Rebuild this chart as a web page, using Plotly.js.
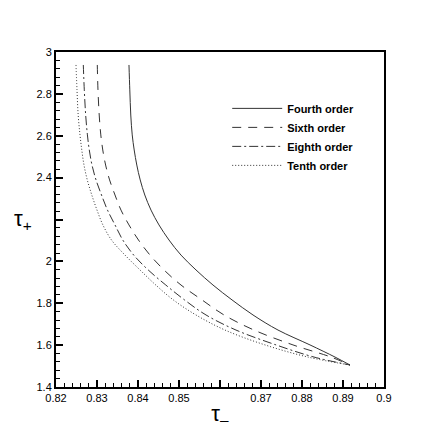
<!DOCTYPE html>
<html>
<head>
<meta charset="utf-8">
<script src="https://cdn.plot.ly/plotly-3.0.1.min.js"></script>
<style>
  body { margin: 0; background: #fff; }
  #plot { width: 436px; height: 436px; }
</style>
</head>
<body>
<div id="plot"></div>
<script>
// values (tau+ levels shared by all four curves)
const tauPlus = [2.938, 2.819, 2.699, 2.604, 2.532, 2.460, 2.389, 2.317, 2.245, 2.174,
                 2.102, 2.030, 1.959, 1.887, 1.816, 1.744, 1.672, 1.601, 1.543, 1.505];

const fourthX = [0.83780, 0.83800, 0.83824, 0.83859, 0.83907, 0.83971, 0.84054, 0.84166, 0.84317, 0.84512,
                 0.84756, 0.85049, 0.85415, 0.85829, 0.86293, 0.86805, 0.87415, 0.88195, 0.88805, 0.89171];
const sixthX  = [0.83007, 0.83024, 0.83054, 0.83093, 0.83141, 0.83210, 0.83307, 0.83439, 0.83585, 0.83780,
                 0.84012, 0.84293, 0.84634, 0.85049, 0.85561, 0.86098, 0.86829, 0.87780, 0.88707, 0.89171];
const eighthX = [0.82666, 0.82690, 0.82724, 0.82766, 0.82812, 0.82878, 0.82976, 0.83110, 0.83256, 0.83439,
                 0.83629, 0.83895, 0.84249, 0.84678, 0.85134, 0.85659, 0.86390, 0.87366, 0.88293, 0.89171];
const tenthX  = [0.82488, 0.82512, 0.82541, 0.82585, 0.82629, 0.82683, 0.82763, 0.82873, 0.83000, 0.83144,
                 0.83354, 0.83683, 0.84049, 0.84434, 0.84861, 0.85415, 0.86122, 0.87098, 0.88146, 0.89171];

// major ticks; 0.86 and 2.2 carry no label in the original (titles sit there)
const xMajor = [0.82, 0.83, 0.84, 0.85, 0.86, 0.87, 0.88, 0.89, 0.9];
const yMajor = [1.4, 1.6, 1.8, 2, 2.2, 2.4, 2.6, 2.8, 3];
const xLabelled = [0.82, 0.83, 0.84, 0.85, 0.87, 0.88, 0.89, 0.9];
const xLabels = ['0.82', '0.83', '0.84', '0.85', '0.87', '0.88', '0.89', '0.9'];
const yLabelled = [1.4, 1.6, 1.8, 2, 2.4, 2.6, 2.8, 3];
const yLabels = ['1.4', '1.6', '1.8', '2', '2.4', '2.6', '2.8', '3'];

const lineColor = '#333';
const fontFam = 'Liberation Sans, Arial, sans-serif';

function curve(x, name, dash) {
  return {
    x: x, y: tauPlus, name: name,
    type: 'scatter', mode: 'lines',
    line: {color: lineColor, width: 1, dash: dash, shape: 'spline', smoothing: 1}
  };
}

const traces = [
  curve(fourthX, 'Fourth order', 'solid'),
  curve(sixthX, 'Sixth order', '9px,7px'),
  curve(eighthX, 'Eighth order', '9px,3px,2px,3px'),
  curve(tenthX, 'Tenth order', '1px,2px'),
  // empty trace so the tick-only overlay axes get drawn
  {x: [], y: [], xaxis: 'x2', yaxis: 'y2', type: 'scatter', mode: 'lines', showlegend: false}
];

const axisCommon = {
  showgrid: false, zeroline: false,
  showline: true, linecolor: '#000', linewidth: 2, mirror: true,
  ticks: 'inside', ticklen: 7, tickwidth: 2, tickcolor: '#000',
  tickfont: {family: fontFam, size: 11, color: '#000'}
};

const layout = {
  width: 436, height: 436,
  margin: {l: 56, r: 52, t: 52, b: 49},
  paper_bgcolor: '#fff', plot_bgcolor: '#fff',
  font: {family: fontFam, color: '#000'},
  xaxis: Object.assign({}, axisCommon, {
    range: [0.82, 0.9],
    tickmode: 'array', tickvals: xLabelled, ticktext: xLabels,
    minor: {dtick: 0.002, ticks: 'inside', ticklen: 4, tickwidth: 1, tickcolor: '#000'},
    title: {text: 'τ<sub>–</sub>', font: {size: 22}, standoff: 2}
  }),
  yaxis: Object.assign({}, axisCommon, {
    range: [1.4, 3],
    tickmode: 'array', tickvals: yLabelled, ticktext: yLabels,
    minor: {dtick: 0.04, ticks: 'inside', ticklen: 4, tickwidth: 1, tickcolor: '#000'}
  }),
  xaxis2: {
    overlaying: 'x', matches: 'x', anchor: 'y2', side: 'bottom',
    showgrid: false, zeroline: false, showline: false, showticklabels: false,
    tickmode: 'array', tickvals: xMajor,
    ticks: 'inside', ticklen: 7, tickwidth: 2, tickcolor: '#000'
  },
  yaxis2: {
    overlaying: 'y', matches: 'y', anchor: 'x2', side: 'left',
    showgrid: false, zeroline: false, showline: false, showticklabels: false,
    tickmode: 'array', tickvals: yMajor,
    ticks: 'inside', ticklen: 7, tickwidth: 2, tickcolor: '#000'
  },
  annotations: [{
    text: 'τ<sub>+</sub>', xref: 'paper', yref: 'y', x: -0.1, y: 2.2,
    xanchor: 'center', yanchor: 'middle', showarrow: false,
    font: {size: 22, family: fontFam}
  }],
  showlegend: true,
  legend: {
    x: 0.522, y: 0.875, xanchor: 'left', yanchor: 'top',
    bgcolor: 'rgba(0,0,0,0)', borderwidth: 0,
    tracegroupgap: 0, itemwidth: 50,
    font: {size: 11, family: fontFam, weight: 'bold'}
  }
};

Plotly.newPlot('plot', traces, layout, {staticPlot: true});
</script>
</body>
</html>
